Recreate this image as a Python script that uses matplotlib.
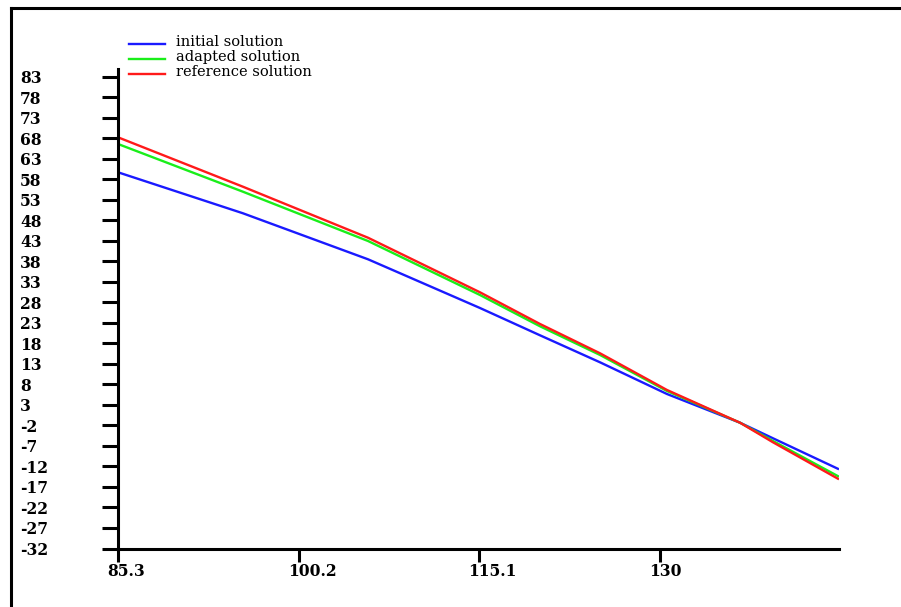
import matplotlib
matplotlib.use("Agg")
import matplotlib.pyplot as plt
import matplotlib.transforms as mtransforms
from matplotlib.lines import Line2D

# ---- data ----
x = [85.3, 95.6, 105.91, 115.14, 120.09, 125.04, 130.56, 136.58, 139.30, 144.74]
initial = [59.76, 49.76, 38.54, 26.66, 20.00, 13.41, 5.68, -1.32, -5.12, -12.68]
adapted = [66.66, 55.02, 43.00, 29.83, 22.20, 15.20, 6.41, -1.32, -5.78, -14.49]
reference = [68.29, 56.24, 43.80, 30.49, 22.76, 15.61, 6.66, -1.32, -6.10, -15.12]

series_labels = ["initial solution", "adapted solution", "reference solution"]
series_colors = ["#1a1aff", "#1aee1a", "#ff1a1a"]

xticks = [85.3, 100.2, 115.1, 130]
xtick_labels = ["85.3", "100.2", "115.1", "130"]
yticks = list(range(-32, 84, 5))
ytick_labels = [str(v) for v in yticks]

W, H, DPI = 901, 607, 100
fig = plt.figure(figsize=(W / DPI, H / DPI), dpi=DPI)
fig.patch.set_facecolor("white")

ax = fig.add_axes([118 / W, 1 - 548.5 / H, (839 - 118) / W, (548.5 - 69) / H])
for ys, c in zip([initial, adapted, reference], series_colors):
    ax.plot(x, ys, color=c, lw=1.7, solid_capstyle="butt")

ax.set_xlim(85.3, 144.74)
ax.set_ylim(-32, 84.95)

for s in ["top", "right"]:
    ax.spines[s].set_visible(False)
for s in ["left", "bottom"]:
    ax.spines[s].set_linewidth(2.2)
    ax.spines[s].set_color("black")

ax.set_xticks(xticks)
ax.set_xticklabels(xtick_labels)
ax.set_yticks(yticks)
ax.set_yticklabels(ytick_labels)

ax.tick_params(axis="y", direction="out", length=11.5, width=2.2, pad=59)
ax.tick_params(axis="x", direction="out", length=9, width=2.2, pad=1.5)

tick_font = dict(family="DejaVu Serif", weight="bold", size=11.2)
for lab in ax.get_yticklabels():
    lab.set(**tick_font)
    lab.set_horizontalalignment("left")
offset = mtransforms.ScaledTranslation(-11 / DPI, 0, fig.dpi_scale_trans)
for lab in ax.get_xticklabels():
    lab.set(**tick_font)
    lab.set_horizontalalignment("left")
    lab.set_transform(lab.get_transform() + offset)

# ---- manual legend ----
leg_line_y = [43.7, 59.3, 74.3]
for ly, lab, c in zip(leg_line_y, series_labels, series_colors):
    fig.add_artist(Line2D([129 / W, 165 / W], [1 - ly / H, 1 - ly / H],
                          transform=fig.transFigure, color=c, lw=1.7))
    fig.text(176 / W, 1 - (ly + 1.8) / H, lab, family="DejaVu Serif",
             size=10.5, va="baseline", ha="left")

# ---- outer frame (top and left only) ----
fig.add_artist(Line2D([10.5 / W, 1.0], [1 - 8.3 / H, 1 - 8.3 / H],
                      transform=fig.transFigure, color="black", lw=2.2))
fig.add_artist(Line2D([10.5 / W, 10.5 / W], [0.0, 1 - 8.3 / H],
                      transform=fig.transFigure, color="black", lw=2.2))

fig.savefig("out.png", dpi=DPI)
